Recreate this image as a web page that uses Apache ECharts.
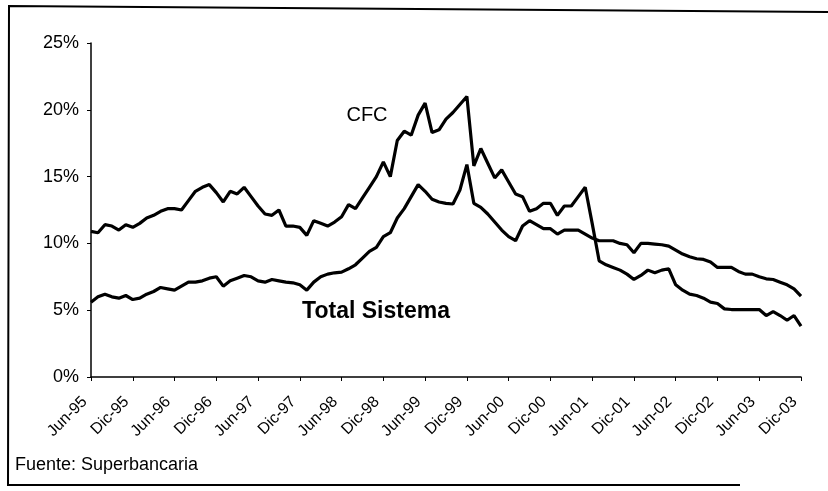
<!DOCTYPE html>
<html>
<head>
<meta charset="utf-8">
<script src="https://cdn.jsdelivr.net/npm/echarts@6/dist/echarts.min.js"></script>
<style>
  html, body { margin: 0; padding: 0; background: #fff; }
  #chart { width: 828px; height: 491px; }
</style>
</head>
<body>
<div id="chart"></div>
<script>
var monthNames = ["Ene", "Feb", "Mar", "Abr", "May", "Jun", "Jul", "Ago", "Sep", "Oct", "Nov", "Dic"];
var startYear = 1995, startMonth = 5, monthCount = 103; // Jun-95 .. Dic-03

// CFC (%), monthly
var cfc = [
  10.9, 10.8, 11.4, 11.3, 11.0, 11.4, 11.2, 11.5, 11.9, 12.1,
  12.4, 12.6, 12.6, 12.5, 13.2, 13.9, 14.2, 14.4, 13.8, 13.1,
  13.9, 13.7, 14.2, 13.5, 12.8, 12.2, 12.1, 12.5, 11.3, 11.3,
  11.2, 10.6, 11.7, 11.5, 11.3, 11.6, 12.0, 12.9, 12.6, 13.4,
  14.2, 15.0, 16.1, 15.0, 17.7, 18.4, 18.1, 19.6, 20.5, 18.3,
  18.5, 19.3, 19.8, 20.4, 21.0, 15.8, 17.1, 16.0, 14.9, 15.5,
  14.6, 13.7, 13.5, 12.4, 12.6, 13.0, 13.0, 12.1, 12.8, 12.8,
  13.5, 14.2, 11.5, 8.7, 8.4, 8.2, 8.0, 7.7, 7.3, 7.6,
  8.0, 7.8, 8.0, 8.1, 6.9, 6.5, 6.2, 6.1, 5.9, 5.6,
  5.5, 5.1, 5.05, 5.05, 5.05, 5.05, 5.05, 4.6, 4.9, 4.6,
  4.25, 4.6, 3.8
];

// Total Sistema (%), monthly
var totalSistema = [
  5.6, 6.0, 6.2, 6.0, 5.9, 6.1, 5.8, 5.9, 6.2, 6.4,
  6.7, 6.6, 6.5, 6.8, 7.1, 7.1, 7.2, 7.4, 7.5, 6.8,
  7.2, 7.4, 7.6, 7.5, 7.2, 7.1, 7.3, 7.2, 7.1, 7.05,
  6.9, 6.5, 7.1, 7.5, 7.7, 7.8, 7.85, 8.1, 8.4, 8.9,
  9.4, 9.7, 10.5, 10.8, 11.9, 12.6, 13.5, 14.4, 13.9, 13.3,
  13.1, 13.0, 12.95, 14.0, 15.9, 13.0, 12.7, 12.2, 11.6, 11.0,
  10.5, 10.2, 11.3, 11.7, 11.4, 11.1, 11.1, 10.7, 11.0, 11.0,
  11.0, 10.7, 10.4, 10.2, 10.2, 10.2, 10.0, 9.9, 9.3, 10.0,
  10.0, 9.95, 9.9, 9.8, 9.5, 9.2, 9.0, 8.85, 8.8, 8.6,
  8.2, 8.2, 8.2, 7.9, 7.7, 7.7, 7.5, 7.35, 7.3, 7.1,
  6.9, 6.6, 6.05
];

var categories = [];
for (var i = 0; i < monthCount; i++) {
  var m = (startMonth + i) % 12;
  var y = startYear + Math.floor((startMonth + i) / 12);
  categories.push(monthNames[m] + "-" + String(y).slice(2));
}

var font = "Liberation Sans, Arial, sans-serif";
var chart = echarts.init(document.getElementById("chart"));

chart.setOption({
  animation: false,
  backgroundColor: "#fff",
  grid: { left: 91, right: 27, top: 43, bottom: 114 },
  xAxis: {
    type: "category",
    data: categories,
    boundaryGap: false,
    axisLine: { lineStyle: { color: "#000", width: 1.5 } },
    axisTick: { interval: 5, length: 4, lineStyle: { color: "#000" } },
    axisLabel: {
      interval: 5,
      rotate: 45,
      margin: 16,
      padding: [0, 9, 0, 0],
      color: "#000",
      fontSize: 16,
      fontFamily: font
    },
    splitLine: { show: false }
  },
  yAxis: {
    type: "value",
    min: 0,
    max: 25,
    interval: 5,
    axisLine: { show: true, lineStyle: { color: "#000", width: 1.5 } },
    axisTick: { show: true, length: 4, lineStyle: { color: "#000" } },
    axisLabel: {
      formatter: "{value}%",
      margin: 12,
      color: "#000",
      fontSize: 18,
      fontFamily: font
    },
    splitLine: { show: false }
  },
  series: [
    {
      name: "CFC",
      type: "line",
      data: cfc,
      showSymbol: false,
      lineStyle: { color: "#000", width: 3.2 }
    },
    {
      name: "Total Sistema",
      type: "line",
      data: totalSistema,
      showSymbol: false,
      lineStyle: { color: "#000", width: 3.2 }
    }
  ],
  graphic: [
    {
      type: "polyline",
      shape: { points: [[828, 12], [9, 6], [8, 485], [740, 485]] },
      style: { stroke: "#000", lineWidth: 2, fill: null }
    },
    {
      type: "text",
      x: 367, y: 115,
      style: { text: "CFC", font: "20px " + font, fill: "#000", align: "center", verticalAlign: "middle" }
    },
    {
      type: "text",
      x: 376, y: 312,
      style: { text: "Total Sistema", font: "bold 23px " + font, fill: "#000", align: "center", verticalAlign: "middle" }
    },
    {
      type: "text",
      x: 15, y: 465,
      style: { text: "Fuente: Superbancaria", font: "18px " + font, fill: "#000", align: "left", verticalAlign: "middle" }
    }
  ]
});
</script>
</body>
</html>
